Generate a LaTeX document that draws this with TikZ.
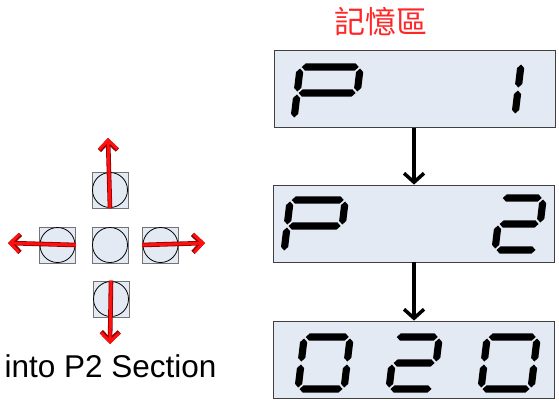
\documentclass[tikz,border=0pt]{standalone}
\usepackage{fontspec}
\setmainfont{Liberation Sans}
\newfontfamily\cjk{Noto Sans CJK TC}
\usetikzlibrary{arrows.meta}
\definecolor{panel}{HTML}{E4EAF4}
\definecolor{redarrow}{HTML}{FF1010}
% seven segment pieces: width \dw, height \dh, half thickness \st
\def\dh{52}
\def\st{3.6}
\def\hseg#1#2#3{\fill (#1,#3) -- (#1+\st,#3+\st) -- (#2-\st,#3+\st) -- (#2,#3) -- (#2-\st,#3-\st) -- (#1+\st,#3-\st) -- cycle;}
\def\vseg#1#2#3{\fill (#1,#2) -- (#1+\st,#2+\st) -- (#1+\st,#3-\st) -- (#1,#3) -- (#1-\st,#3-\st) -- (#1-\st,#2+\st) -- cycle;}
\def\sega{\hseg{1.5}{\dw-1.5}{\dh}}
\def\segb{\vseg{\dw}{\dh/2+1.5}{\dh-1.5}}
\def\segc{\vseg{\dw}{1.5}{\dh/2-1.5}}
\def\segd{\hseg{1.5}{\dw-1.5}{0}}
\def\sege{\vseg{0}{1.5}{\dh/2-1.5}}
\def\segf{\vseg{0}{\dh/2+1.5}{\dh-1.5}}
\def\segg{\hseg{1.5}{\dw-1.5}{\dh/2}}
\def\segdigit(#1,#2)#3#4{%
  \begin{scope}[shift={(#1,#2)}, xslant=0.12]
    \def\dw{#3}
    \foreach \s in {#4} {\csname seg\s\endcsname}
  \end{scope}}

\begin{document}
\begin{tikzpicture}[x=1pt, y=1pt,
    dispbox/.style={draw=black!75, fill=panel, line width=0.8pt, minimum width=281pt, minimum height=77pt, inner sep=0pt},
    keybox/.style={draw=black!55, fill=panel, line width=0.6pt, minimum size=36pt, inner sep=0pt},
    flow/.style={line width=3.5pt, -{Straight Barb[length=9pt, width=20pt]}},
    push/.style={redarrow, line width=3pt, preaction={draw=red!55!black, line width=4.6pt},
      -{Straight Barb[length=9pt, width=18pt]}}]
  \useasboundingbox (0,0) rectangle (559,400);

  %%%%% memory displays %%%%%
  \node[text=red!85, font=\cjk\fontsize{31}{34}\selectfont] (title) at (380.5,378.5) {記憶區};

  \node[dispbox] (mem1) at (414.5,311) {};
  \node[dispbox] (mem2) at (414,176.5) {};
  \node[dispbox] (mem3) at (413.5,40.5) {};

  \draw[flow] (mem1.south -| 414,0) -- (mem2.north -| 414,0);
  \draw[flow] (mem2.south -| 414,0) -- (mem3.north -| 414,0);

  \segdigit(294,281){60}{a,b,f,g,e}
  \segdigit(475,285){40}{b,c}

  \segdigit(284,148){55}{a,b,f,g,e}
  \segdigit(495,150){42}{a,b,g,e,d}

  \segdigit(298,11){46}{a,b,c,d,e,f}
  \segdigit(389,11){44}{a,b,g,e,d}
  \segdigit(481,11){50}{a,b,c,d,e,f}

  %%%%% keys %%%%%
  \node[keybox] (up) at (110,210) {};
  \node[keybox] (left) at (57.5,155) {};
  \node[keybox] (mid) at (110,155) {};
  \node[keybox] (right) at (160.5,155) {};
  \node[keybox] (down) at (111,101) {};
  \foreach \k in {up,left,mid,right,down}
    \draw[fill=panel, line width=0.8pt] (\k) circle (17.5);

  \coordinate (upend) at (108,262);
  \coordinate (leftend) at (8,157);
  \coordinate (rightend) at (205,157);
  \coordinate (downend) at (110,56);
  \draw[push] (up.south) -- (upend);
  \draw[push] (left.east) -- (leftend);
  \draw[push] (right.west) -- (rightend);
  \draw[push] (down.north) -- (downend);

  \node[anchor=base, font=\fontsize{31.5}{34}\selectfont, inner sep=0pt] (caption) at (110.5,23) {into P2 Section};
\end{tikzpicture}
\end{document}
